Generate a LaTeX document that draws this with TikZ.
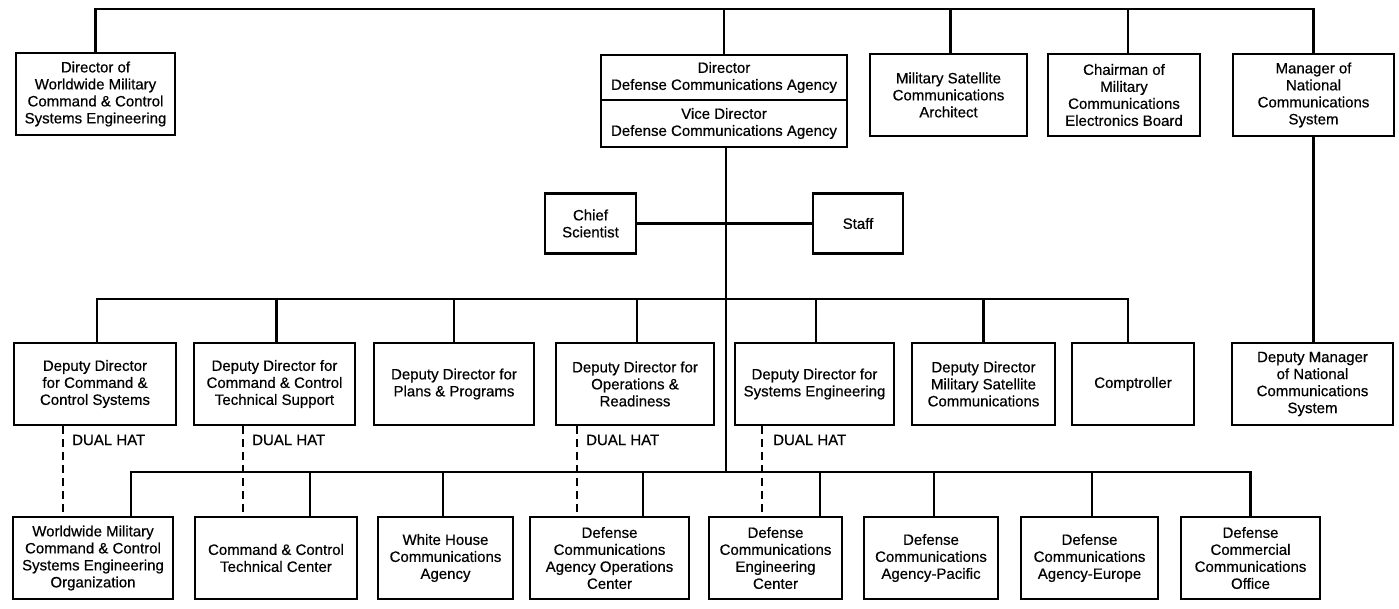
\documentclass[tikz,border=0pt]{standalone}
\usepackage{fontspec}
\setmainfont{Liberation Sans}[FakeBold=0.5]
\begin{document}
\begin{tikzpicture}[x=1pt,y=-1pt,
  box/.style={draw, line width=2.6pt, align=center, inner sep=0pt,
    font=\fontsize{15}{17}\selectfont, minimum height=82pt},
  conn/.style={line width=2.2pt},
  dualhat/.style={line width=2.2pt, dash pattern=on 8pt off 5pt},
  hat/.style={anchor=west, inner sep=0pt, font=\fontsize{15}{17}\selectfont}]
\fill[white] (0,0) rectangle (1399,608);
\useasboundingbox (0,0) rectangle (1399,608);
\coordinate (top) at (0,9);
\coordinate (dbus) at (0,299);
\coordinate (bbus) at (0,472);

% top row
\node[box, minimum width=159pt] (d1) at (95.5,94) {Director of\\Worldwide Military\\Command \& Control\\Systems Engineering};
\node[box, minimum width=246pt, minimum height=45pt] (dir) at (724,77.5) {Director\\Defense Communications Agency};
\node[box, minimum width=246pt, minimum height=47pt] (vdir) at (724,123.5) {Vice Director\\Defense Communications Agency};
\node[box, minimum width=157pt] (arch) at (948.5,95) {Military Satellite\\Communications\\Architect};
\node[box, minimum width=152pt] (chair) at (1124,95) {Chairman of\\Military\\Communications\\Electronics Board};
\node[box, minimum width=161pt] (mgr) at (1313.5,95) {Manager of\\National\\Communications\\System};

% staff row
\node[box, minimum width=91pt, minimum height=60pt] (chief) at (590.5,223.5) {Chief\\Scientist};
\node[box, minimum width=90pt, minimum height=60pt] (staff) at (858,223.5) {Staff};

% deputies
\node[box, minimum width=162pt] (dd1) at (95,384) {Deputy Director\\for Command \&\\Control Systems};
\node[box, minimum width=161pt] (dd2) at (274.5,384) {Deputy Director for\\Command \& Control\\Technical Support};
\node[box, minimum width=160pt] (dd3) at (454,384) {Deputy Director for\\Plans \& Programs};
\node[box, minimum width=158pt] (dd4) at (635,384) {Deputy Director for\\Operations \&\\Readiness};
\node[box, minimum width=159pt] (dd5) at (814.5,384) {Deputy Director for\\Systems Engineering};
\node[box, minimum width=143pt] (dd6) at (983.5,384) {Deputy Director\\Military Satellite\\Communications};
\node[box, minimum width=122pt] (dd7) at (1133,384) {Comptroller};
\node[box, minimum width=161pt] (dmgr) at (1312.5,384) {Deputy Manager\\of National\\Communications\\System};

% bottom row
\node[box, minimum width=160pt] (b1) at (93,558) {Worldwide Military\\Command \& Control\\Systems Engineering\\Organization};
\node[box, minimum width=162pt] (b2) at (276,558) {Command \& Control\\Technical Center};
\node[box, minimum width=135pt] (b3) at (445.5,558) {White House\\Communications\\Agency};
\node[box, minimum width=159pt] (b4) at (609.5,558) {Defense\\Communications\\Agency Operations\\Center};
\node[box, minimum width=133pt] (b5) at (775.5,558) {Defense\\Communications\\Engineering\\Center};
\node[box, minimum width=134pt] (b6) at (931,558) {Defense\\Communications\\Agency-Pacific};
\node[box, minimum width=137pt] (b7) at (1089.5,558) {Defense\\Communications\\Agency-Europe};
\node[box, minimum width=139pt] (b8) at (1250.5,558) {Defense\\Commercial\\Communications\\Office};

% top bus
\draw[conn] (d1.north) |- (mgr.north |- top) -- (mgr.north);
\draw[conn] (dir.north) -- (dir.north |- top);
\draw[conn] ([xshift=2pt]arch.north) -- ([xshift=2pt]arch.north |- top);
\draw[conn] ([xshift=4pt]chair.north) -- ([xshift=4pt]chair.north |- top);

% director trunk
\draw[conn] ([xshift=2pt]vdir.south) -- ([xshift=2pt]vdir.south |- bbus);
\draw[conn] (chief.east) -- (staff.west);

% deputies bus
\draw[conn] ([xshift=2pt]dd1.north) |- ([xshift=-5pt]dd7.north |- dbus) -- ([xshift=-5pt]dd7.north);
\draw[conn] ([xshift=2pt]dd2.north) -- ([xshift=2pt]dd2.north |- dbus);
\draw[conn] (dd3.north) -- (dd3.north |- dbus);
\draw[conn] ([xshift=2pt]dd4.north) -- ([xshift=2pt]dd4.north |- dbus);
\draw[conn] ([xshift=1.5pt]dd5.north) -- ([xshift=1.5pt]dd5.north |- dbus);
\draw[conn] (dd6.north) -- (dd6.north |- dbus);
\draw[conn] (mgr.south) -- (mgr.south |- dmgr.north);

% bottom bus
\draw[conn] ([xshift=38pt]b1.north) |- (b8.north |- bbus) -- (b8.north);
\draw[conn] ([xshift=34pt]b2.north) -- ([xshift=34pt]b2.north |- bbus);
\draw[conn] ([xshift=-2.5pt]b3.north) -- ([xshift=-2.5pt]b3.north |- bbus);
\draw[conn] ([xshift=33.5pt]b4.north) -- ([xshift=33.5pt]b4.north |- bbus);
\draw[conn] ([xshift=44.5pt]b5.north) -- ([xshift=44.5pt]b5.north |- bbus);
\draw[conn] ([xshift=3pt]b6.north) -- ([xshift=3pt]b6.north |- bbus);
\draw[conn] ([xshift=2.5pt]b7.north) -- ([xshift=2.5pt]b7.north |- bbus);

% dual hat links
\draw[dualhat] ([xshift=-32pt]dd1.south) -- ([xshift=-32pt]dd1.south |- b1.north);
\draw[dualhat] ([xshift=-31.5pt]dd2.south) -- ([xshift=-31.5pt]dd2.south |- b2.north);
\draw[dualhat] ([xshift=-58pt]dd4.south) -- ([xshift=-58pt]dd4.south |- b4.north);
\draw[dualhat] ([xshift=-52.5pt]dd5.south) -- ([xshift=-52.5pt]dd5.south |- b5.north);
\node[hat] (h1) at (72,440) {DUAL HAT};
\node[hat] (h2) at (252,440) {DUAL HAT};
\node[hat] (h3) at (586,440) {DUAL HAT};
\node[hat] (h4) at (773,440) {DUAL HAT};
\end{tikzpicture}
\end{document}
